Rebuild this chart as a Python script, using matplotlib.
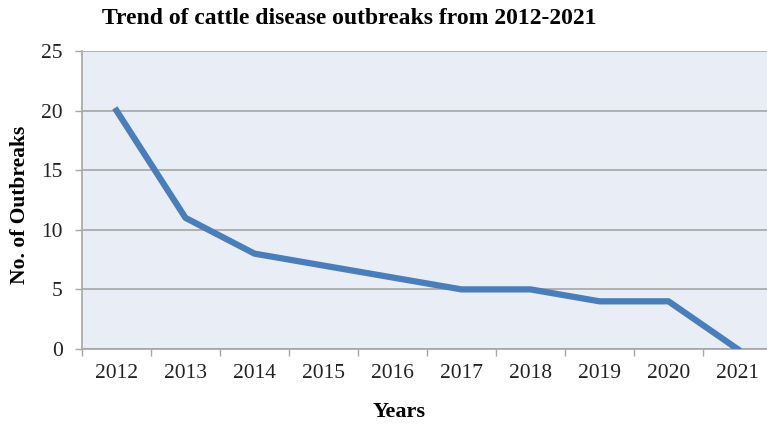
import matplotlib.pyplot as plt

years = ['2012', '2013', '2014', '2015', '2016', '2017', '2018', '2019', '2020', '2021']
outbreaks = [20, 11, 8, 7, 6, 5, 5, 4, 4, 0]
y_ticks = [0, 5, 10, 15, 20, 25]

plt.rcParams['font.family'] = ['Liberation Serif', 'DejaVu Serif']

fig = plt.figure(figsize=(7.67, 4.25), dpi=100)
ax = fig.add_axes([82 / 767, 76 / 425, 690 / 767, 298 / 425])
ax.set_facecolor('#e8edf6')

x = list(range(len(years)))
ax.plot(x, outbreaks, color='#4a7ebb', linewidth=4.5, zorder=3)

ax.set_xlim(-0.5, len(years) - 0.5)
ax.set_ylim(0, 25)
ax.set_yticks(y_ticks)
ax.set_yticklabels([str(t) for t in y_ticks], fontsize=15.5, color='#222222')
ax.yaxis.grid(True, color='#a6a6a6', linewidth=1.2)
ax.set_axisbelow(True)

# category labels in the middle, tick marks on the boundaries
ax.set_xticks(x)
ax.set_xticklabels(years, fontsize=15.5, color='#222222')
ax.tick_params(axis='x', length=0, pad=11)
ax.set_xticks([i - 0.5 for i in range(len(years) + 1)], minor=True)
ax.tick_params(axis='x', which='minor', length=5, color='#a6a6a6', width=1)
ax.tick_params(axis='y', length=5, color='#a6a6a6', width=1, pad=9)

for side in ['top', 'right']:
    ax.spines[side].set_visible(False)
ax.spines['left'].set_color('#a6a6a6')
ax.spines['bottom'].set_color('#a6a6a6')
ax.spines['left'].set_linewidth(1.2)
ax.spines['bottom'].set_linewidth(1.2)

fig.text(102 / 767, 1 - 19 / 425, 'Trend of cattle disease outbreaks from 2012-2021',
         fontsize=17, fontweight='bold', va='center', ha='left')
fig.text(20 / 767, 1 - 205 / 425, 'No. of Outbreaks', fontsize=15.5, fontweight='bold',
         rotation=90, va='center', ha='center')
fig.text(399 / 767, 1 - 412 / 425, 'Years', fontsize=16, fontweight='bold',
         va='center', ha='center')

fig.savefig('out.png', dpi=100)
